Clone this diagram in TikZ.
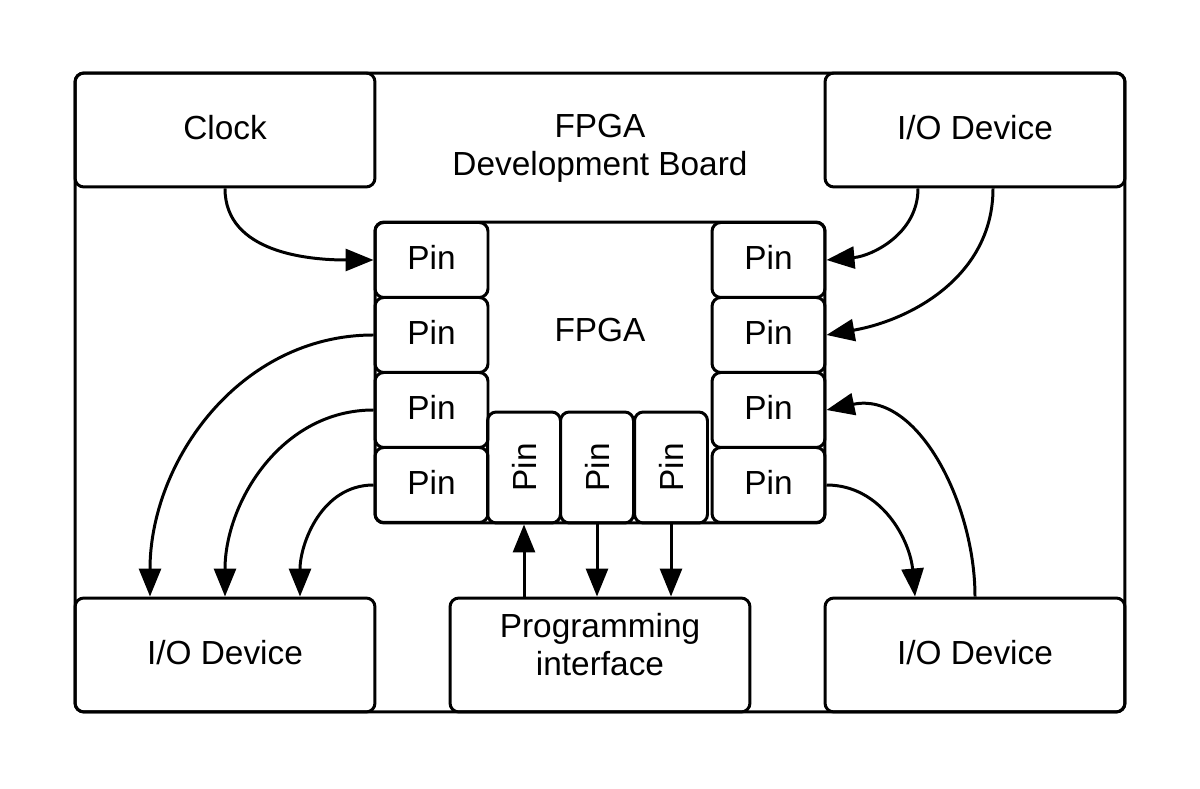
\documentclass[tikz,border=0pt]{standalone}
\usepackage{fontspec}
\setmainfont{Liberation Sans}
\usepackage{tikz}
\usetikzlibrary{calc,arrows.meta}
\usepackage{xcolor}

\tikzset{
  lbl/.style={font=\fontsize{19}{21.6}\selectfont, align=center},
  unit/.style={draw, line width=1.7pt, rounded corners=5pt, lbl,
    minimum width=6cm, minimum height=2.28cm, inner sep=0pt, text depth=0.25em},
  pinh/.style={draw, line width=1.7pt, rounded corners=5pt, lbl,
    minimum width=2.26cm, minimum height=1.5cm, inner sep=0pt, text depth=0.25em},
  pinv/.style={draw, line width=1.7pt, rounded corners=5pt, lbl,
    minimum width=1.46cm, minimum height=2.22cm, inner sep=0pt},
  conn/.style={-{Triangle[length=5.6mm,width=4.4mm]}, line width=1.7pt}
}

\begin{document}
\begin{tikzpicture}[x=0.02cm,y=0.02cm]
  \path[use as bounding box] (0,0) rectangle (1200,788);
  % Platine mit Beschriftung
  \node[draw, line width=1.7pt, rounded corners=5pt, minimum width=21cm,
    minimum height=12.78cm, inner sep=0pt] (board) at (600,395.5) {};
  \node[lbl] (boardlbl) at (600,640) {FPGA\\Development Board};
  % Baugruppen auf der Platine
  \node[unit] (clock) at (225,658) {Clock};
  \node[unit] (iotr) at (975,658) {I/O Device};
  \node[unit] (iobl) at (225,133) {I/O Device};
  \node[unit, text depth=0.44cm] (prog) at (600,133) {Programming\\interface};
  \node[unit] (iobr) at (975,133) {I/O Device};
  % FPGA mit Pins
  \node[draw, line width=1.7pt, rounded corners=5pt, minimum width=9cm,
    minimum height=6.02cm, inner sep=0pt] (fpga) at (600,415.5) {};
  \node[lbl] (fpgalbl) at (600,458) {FPGA};
  \foreach \i/\y in {1/528,2/453,3/378,4/303}{
    \node[pinh] (lp\i) at (431.5,\y) {Pin};
    \node[pinh] (rp\i) at (768.5,\y) {Pin};
  }
  \foreach \i/\x in {1/524,2/597,3/671}{
    \node[pinv] (bp\i) at (\x,320.5) {\rotatebox{90}{Pin}};
  }
  % Verbindungen
  \draw[conn] (clock.south) to[out=-90,in=180] (lp1.west);
  \draw[conn] ($(iotr.south)+(-57,0)$) to[out=-90,in=5] (rp1.east);
  \draw[conn] ($(iotr.south)+(18,0)$) to[out=-90,in=10] (rp2.east);
  \draw[conn] (iobr.north) to[out=90,in=12] (rp3.east);
  \draw[conn] (rp4.east) to[out=0,in=95] ($(iobr.north)+(-60,0)$);
  \draw[conn] (lp2.west) to[out=180,in=90] ($(iobl.north)+(-75,0)$);
  \draw[conn] (lp3.west) to[out=180,in=90] (iobl.north);
  \draw[conn] (lp4.west) to[out=180,in=90] ($(iobl.north)+(75,0)$);
  \draw[conn] (bp1.south |- prog.north) -- (bp1.south);
  \draw[conn] (bp2.south) -- (bp2.south |- prog.north);
  \draw[conn] (bp3.south) -- (bp3.south |- prog.north);
\end{tikzpicture}
\end{document}
